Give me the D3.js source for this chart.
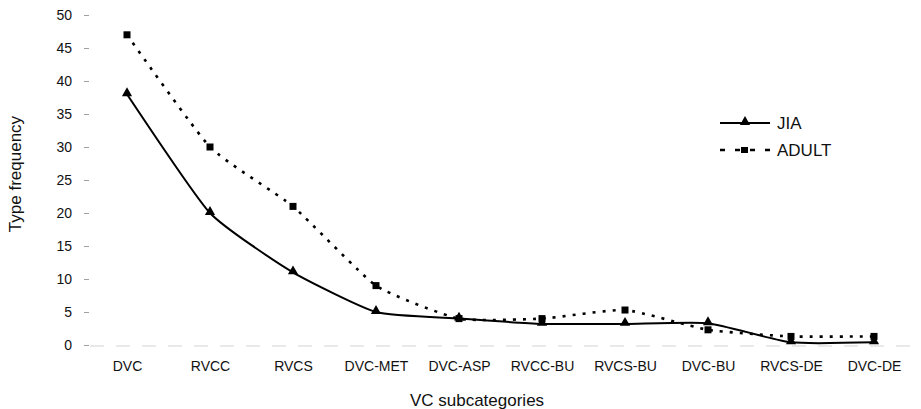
<!DOCTYPE html>
<html><head><meta charset="utf-8">
<script src="https://cdn.jsdelivr.net/npm/d3@7"></script>
<style>body{margin:0;background:#fff}svg{display:block}text{font-family:"Liberation Sans",Arial,sans-serif;fill:#111}</style>
</head><body><svg id="c" width="921" height="409"></svg>
<script>
const categories = ["DVC","RVCC","RVCS","DVC-MET","DVC-ASP","RVCC-BU","RVCS-BU","DVC-BU","RVCS-DE","DVC-DE"];
const jiaValues = [38,20,11,5,4,3.2,3.2,3.3,0.4,0.4];
const adultValues = [47,30,21,9,4,4,5.3,2.3,1.3,1.3];
const yTicks = [0,5,10,15,20,25,30,35,40,45,50];
const seriesNames = ["JIA","ADULT"];

const svg = d3.select("#c");
const x = d3.scalePoint().domain(categories).range([127,874]);
const y = d3.scaleLinear().domain([0,50]).range([345,15]);

// y axis ticks
const ya = svg.append("g").attr("transform","translate(89,0)")
  .call(d3.axisLeft(y).tickValues(yTicks).tickSize(5).tickPadding(12));
ya.select(".domain").remove();
ya.selectAll(".tick line").attr("stroke","#888").attr("stroke-width",0.8);
ya.selectAll(".tick text").style("font-size","14px").attr("fill","#111");

// x axis
const xa = svg.append("g").attr("transform","translate(0,346)")
  .call(d3.axisBottom(x).tickSize(0).tickPadding(15));
xa.select(".domain").attr("stroke","#c8c8c8").attr("stroke-width",0.8).attr("stroke-dasharray","14 12").attr("d","M90,0H918");
xa.selectAll(".tick text").style("font-size","14px").attr("fill","#111");

// titles
svg.append("text").attr("transform","translate(21,174) rotate(-90)").attr("text-anchor","middle")
  .style("font-size","17px").text("Type frequency");
svg.append("text").attr("x",477).attr("y",406).attr("text-anchor","middle")
  .style("font-size","17px").text("VC subcategories");

const line = d3.line().x((d,i)=>x(categories[i])).y(d=>y(d)).curve(d3.curveCardinal.tension(0.5));

svg.append("path").datum(adultValues).attr("d",line).attr("fill","none")
  .attr("stroke","#000").attr("stroke-width",2.6).attr("stroke-dasharray","3 7");
svg.append("path").datum(jiaValues).attr("d",line).attr("fill","none")
  .attr("stroke","#000").attr("stroke-width",2);

const tri = d3.symbol().type(d3.symbolTriangle).size(45);
svg.selectAll(".sq").data(adultValues).enter().append("rect")
  .attr("x",(d,i)=>x(categories[i])-3.5).attr("y",d=>y(d)-3.5).attr("width",7).attr("height",7).attr("fill","#000");
svg.selectAll(".tr").data(jiaValues).enter().append("path")
  .attr("d",tri).attr("transform",(d,i)=>`translate(${x(categories[i])},${y(d)-1})`).attr("fill","#000");

// legend
const lg = svg.append("g");
lg.append("line").attr("x1",720).attr("x2",770).attr("y1",123).attr("y2",123).attr("stroke","#000").attr("stroke-width",2);
lg.append("path").attr("d",tri).attr("transform","translate(745,122)").attr("fill","#000");
lg.append("text").attr("x",777).attr("y",129).style("font-size","17px").text(seriesNames[0]);
lg.append("line").attr("x1",720).attr("x2",771).attr("y1",150).attr("y2",150).attr("stroke","#000").attr("stroke-width",2.4).attr("stroke-dasharray","5 10");
lg.append("rect").attr("x",741).attr("y",147).attr("width",7).attr("height",6).attr("fill","#000");
lg.append("text").attr("x",777).attr("y",156).style("font-size","17px").text(seriesNames[1]);
</script></body></html>
